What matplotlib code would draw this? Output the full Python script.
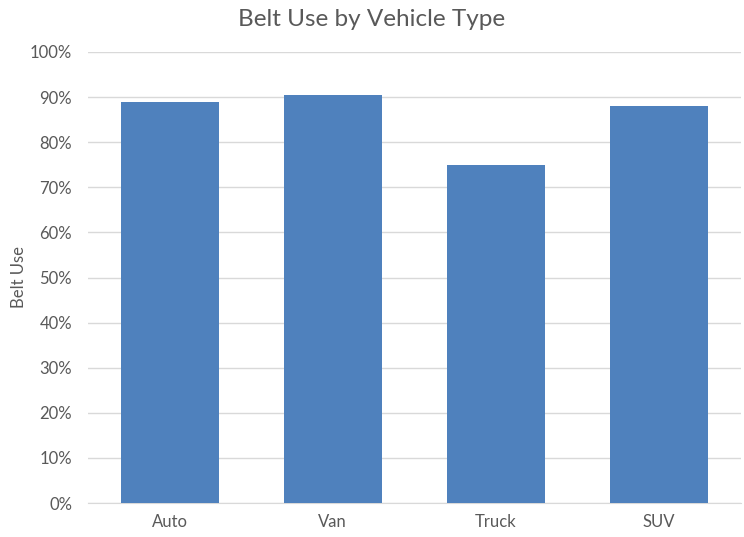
import matplotlib
matplotlib.use("Agg")
import matplotlib.pyplot as plt
from matplotlib.ticker import FuncFormatter

categories = ["Auto", "Van", "Truck", "SUV"]
belt_use = [88.9, 90.5, 74.9, 88.0]
y_ticks = [0, 10, 20, 30, 40, 50, 60, 70, 80, 90, 100]

TEXT = "#595959"
GRID = "#d9d9d9"
BAR = "#4f81bd"

plt.rcParams["font.family"] = ["Lato", "DejaVu Sans"]

fig = plt.figure(figsize=(7.44, 5.37), dpi=100)
ax = fig.add_axes([88 / 744, 1 - 503 / 537, (740.6 - 88) / 744, (503 - 52) / 537])

x = range(len(categories))
ax.bar(x, belt_use, width=0.6, color=BAR, zorder=3)

ax.set_xlim(-0.5, len(categories) - 0.5)
ax.set_ylim(0, 100)
ax.set_yticks(y_ticks)
ax.yaxis.set_major_formatter(FuncFormatter(lambda v, _: f"{v:.0f}%"))
ax.set_xticks(list(x))
ax.set_xticklabels(categories)

ax.grid(axis="y", color=GRID, linewidth=1, zorder=0)
for side in ("top", "right", "left"):
    ax.spines[side].set_visible(False)
ax.spines["bottom"].set_color(GRID)
ax.tick_params(axis="both", length=0, colors=TEXT, labelsize=12)
ax.tick_params(axis="y", pad=11.5)
ax.tick_params(axis="x", pad=8)

ax.set_ylabel("Belt Use", color=TEXT, fontsize=12)
ax.yaxis.set_label_coords((27 - 88) / 652.6, 0.5)
fig.text(0.5, 1 - 19 / 537, "Belt Use by Vehicle Type", ha="center", va="center",
         color=TEXT, fontsize=17.5)

fig.savefig("out.png", dpi=100)
